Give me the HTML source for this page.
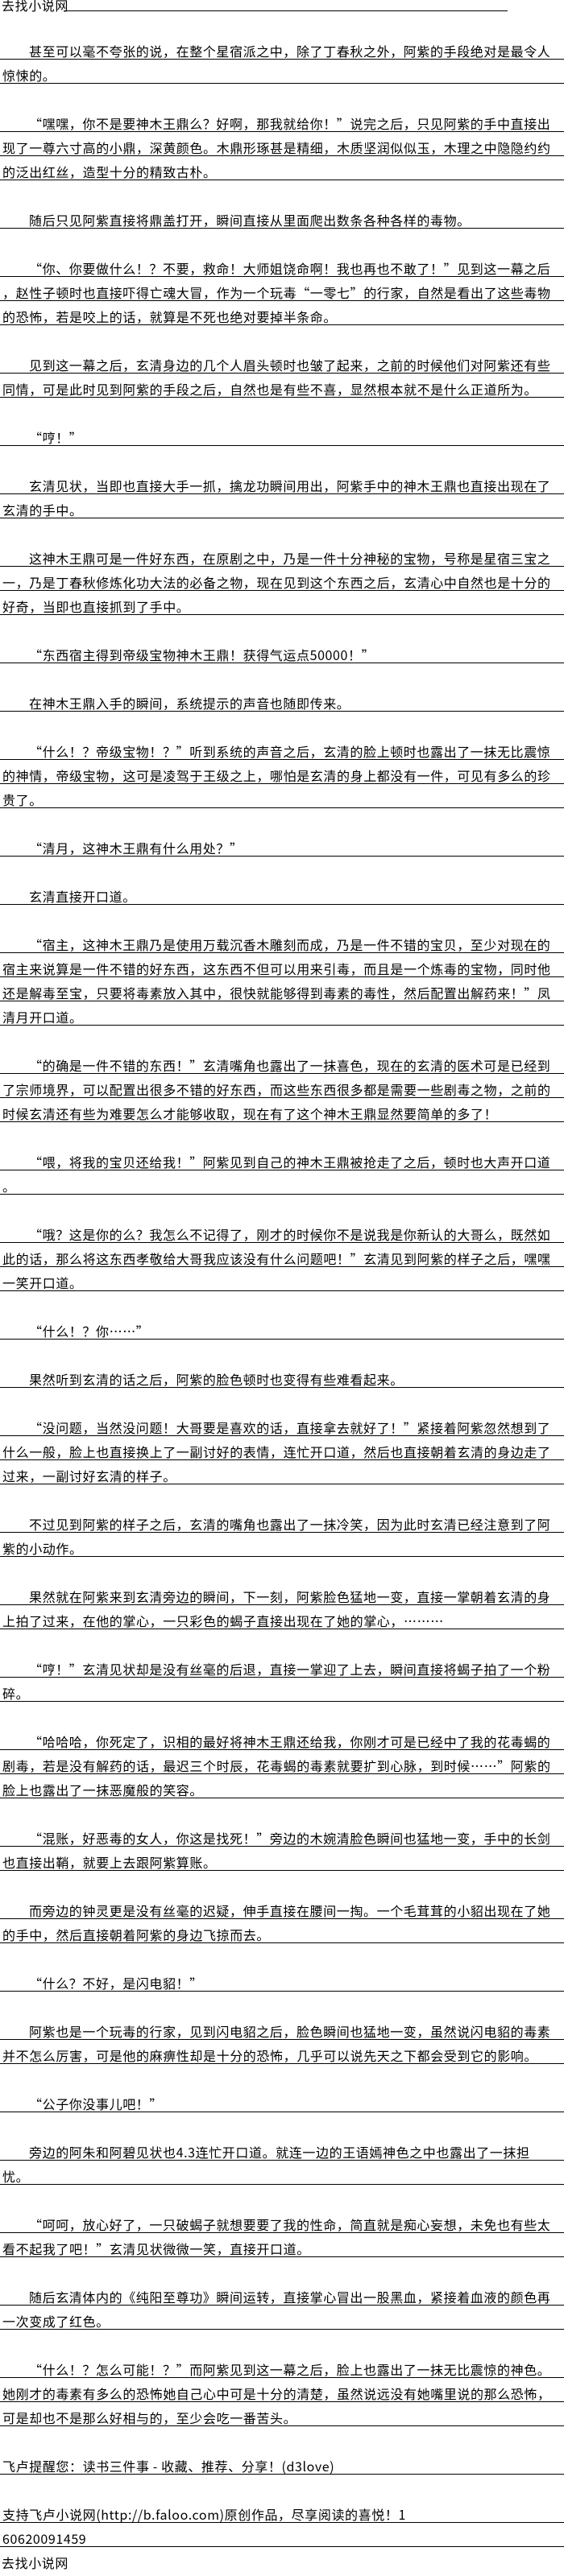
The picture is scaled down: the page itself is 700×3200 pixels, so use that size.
<!DOCTYPE html>
<html><head><meta charset="utf-8">
<style>
html,body{margin:0;padding:0;background:#fff;}
body{width:700px;height:3200px;overflow:hidden;position:relative;font-family:"WenQuanYi Zen Hei","Noto Sans CJK SC",sans-serif;font-size:16px;letter-spacing:0.6px;color:#000;}
.hd{position:relative;height:14px;}
.hd span{position:absolute;left:2px;top:-3px;line-height:18px;}
.hd i{position:absolute;left:79px;width:551px;top:13px;height:1px;background:#000;}
.b{height:30px;}
.l{height:30px;box-sizing:border-box;border-bottom:1px solid #000;padding-top:10px;line-height:19px;white-space:nowrap;padding-left:3px;overflow:hidden;}
.i{padding-left:36px;}
.n{height:30px;box-sizing:border-box;padding-top:10px;line-height:19px;white-space:nowrap;padding-left:2px;}
</style></head><body>
<div class="hd"><span>去找小说网</span><i></i></div>
<div class="b"></div>
<div class="l i">甚至可以毫不夸张的说，在整个星宿派之中，除了丁春秋之外，阿紫的手段绝对是最令人</div>
<div class="l">惊悚的。</div>
<div class="b"></div>
<div class="l i">“嘿嘿，你不是要神木王鼎么？好啊，那我就给你！”说完之后，只见阿紫的手中直接出</div>
<div class="l">现了一尊六寸高的小鼎，深黄颜色。木鼎形琢甚是精细，木质坚润似似玉，木理之中隐隐约约</div>
<div class="l">的泛出红丝，造型十分的精致古朴。</div>
<div class="b"></div>
<div class="l i">随后只见阿紫直接将鼎盖打开，瞬间直接从里面爬出数条各种各样的毒物。</div>
<div class="b"></div>
<div class="l i">“你、你要做什么！？不要，救命！大师姐饶命啊！我也再也不敢了！”见到这一幕之后</div>
<div class="l">，赵性子顿时也直接吓得亡魂大冒，作为一个玩毒“一零七”的行家，自然是看出了这些毒物</div>
<div class="l">的恐怖，若是咬上的话，就算是不死也绝对要掉半条命。</div>
<div class="b"></div>
<div class="l i">见到这一幕之后，玄清身边的几个人眉头顿时也皱了起来，之前的时候他们对阿紫还有些</div>
<div class="l">同情，可是此时见到阿紫的手段之后，自然也是有些不喜，显然根本就不是什么正道所为。</div>
<div class="b"></div>
<div class="l i">“哼！”</div>
<div class="b"></div>
<div class="l i">玄清见状，当即也直接大手一抓，擒龙功瞬间用出，阿紫手中的神木王鼎也直接出现在了</div>
<div class="l">玄清的手中。</div>
<div class="b"></div>
<div class="l i">这神木王鼎可是一件好东西，在原剧之中，乃是一件十分神秘的宝物，号称是星宿三宝之</div>
<div class="l">一，乃是丁春秋修炼化功大法的必备之物，现在见到这个东西之后，玄清心中自然也是十分的</div>
<div class="l">好奇，当即也直接抓到了手中。</div>
<div class="b"></div>
<div class="l i">“东西宿主得到帝级宝物神木王鼎！获得气运点50000！”</div>
<div class="b"></div>
<div class="l i">在神木王鼎入手的瞬间，系统提示的声音也随即传来。</div>
<div class="b"></div>
<div class="l i">“什么！？帝级宝物！？”听到系统的声音之后，玄清的脸上顿时也露出了一抹无比震惊</div>
<div class="l">的神情，帝级宝物，这可是凌驾于王级之上，哪怕是玄清的身上都没有一件，可见有多么的珍</div>
<div class="l">贵了。</div>
<div class="b"></div>
<div class="l i">“清月，这神木王鼎有什么用处？”</div>
<div class="b"></div>
<div class="l i">玄清直接开口道。</div>
<div class="b"></div>
<div class="l i">“宿主，这神木王鼎乃是使用万载沉香木雕刻而成，乃是一件不错的宝贝，至少对现在的</div>
<div class="l">宿主来说算是一件不错的好东西，这东西不但可以用来引毒，而且是一个炼毒的宝物，同时他</div>
<div class="l">还是解毒至宝，只要将毒素放入其中，很快就能够得到毒素的毒性，然后配置出解药来！”凤</div>
<div class="l">清月开口道。</div>
<div class="b"></div>
<div class="l i">“的确是一件不错的东西！”玄清嘴角也露出了一抹喜色，现在的玄清的医术可是已经到</div>
<div class="l">了宗师境界，可以配置出很多不错的好东西，而这些东西很多都是需要一些剧毒之物，之前的</div>
<div class="l">时候玄清还有些为难要怎么才能够收取，现在有了这个神木王鼎显然要简单的多了！</div>
<div class="b"></div>
<div class="l i">“喂，将我的宝贝还给我！”阿紫见到自己的神木王鼎被抢走了之后，顿时也大声开口道</div>
<div class="l">。</div>
<div class="b"></div>
<div class="l i">“哦？这是你的么？我怎么不记得了，刚才的时候你不是说我是你新认的大哥么，既然如</div>
<div class="l">此的话，那么将这东西孝敬给大哥我应该没有什么问题吧！”玄清见到阿紫的样子之后，嘿嘿</div>
<div class="l">一笑开口道。</div>
<div class="b"></div>
<div class="l i">“什么！？你……”</div>
<div class="b"></div>
<div class="l i">果然听到玄清的话之后，阿紫的脸色顿时也变得有些难看起来。</div>
<div class="b"></div>
<div class="l i">“没问题，当然没问题！大哥要是喜欢的话，直接拿去就好了！”紧接着阿紫忽然想到了</div>
<div class="l">什么一般，脸上也直接换上了一副讨好的表情，连忙开口道，然后也直接朝着玄清的身边走了</div>
<div class="l">过来，一副讨好玄清的样子。</div>
<div class="b"></div>
<div class="l i">不过见到阿紫的样子之后，玄清的嘴角也露出了一抹冷笑，因为此时玄清已经注意到了阿</div>
<div class="l">紫的小动作。</div>
<div class="b"></div>
<div class="l i">果然就在阿紫来到玄清旁边的瞬间，下一刻，阿紫脸色猛地一变，直接一掌朝着玄清的身</div>
<div class="l">上拍了过来，在他的掌心，一只彩色的蝎子直接出现在了她的掌心，………</div>
<div class="b"></div>
<div class="l i">“哼！”玄清见状却是没有丝毫的后退，直接一掌迎了上去，瞬间直接将蝎子拍了一个粉</div>
<div class="l">碎。</div>
<div class="b"></div>
<div class="l i">“哈哈哈，你死定了，识相的最好将神木王鼎还给我，你刚才可是已经中了我的花毒蝎的</div>
<div class="l">剧毒，若是没有解药的话，最迟三个时辰，花毒蝎的毒素就要扩到心脉，到时候……”阿紫的</div>
<div class="l">脸上也露出了一抹恶魔般的笑容。</div>
<div class="b"></div>
<div class="l i">“混账，好恶毒的女人，你这是找死！”旁边的木婉清脸色瞬间也猛地一变，手中的长剑</div>
<div class="l">也直接出鞘，就要上去跟阿紫算账。</div>
<div class="b"></div>
<div class="l i">而旁边的钟灵更是没有丝毫的迟疑，伸手直接在腰间一掏。一个毛茸茸的小貂出现在了她</div>
<div class="l">的手中，然后直接朝着阿紫的身边飞掠而去。</div>
<div class="b"></div>
<div class="l i">“什么？不好，是闪电貂！”</div>
<div class="b"></div>
<div class="l i">阿紫也是一个玩毒的行家，见到闪电貂之后，脸色瞬间也猛地一变，虽然说闪电貂的毒素</div>
<div class="l">并不怎么厉害，可是他的麻痹性却是十分的恐怖，几乎可以说先天之下都会受到它的影响。</div>
<div class="b"></div>
<div class="l i">“公子你没事儿吧！”</div>
<div class="b"></div>
<div class="l i">旁边的阿朱和阿碧见状也4.3连忙开口道。就连一边的王语嫣神色之中也露出了一抹担</div>
<div class="l">忧。</div>
<div class="b"></div>
<div class="l i">“呵呵，放心好了，一只破蝎子就想要要了我的性命，简直就是痴心妄想，未免也有些太</div>
<div class="l">看不起我了吧！”玄清见状微微一笑，直接开口道。</div>
<div class="b"></div>
<div class="l i">随后玄清体内的《纯阳至尊功》瞬间运转，直接掌心冒出一股黑血，紧接着血液的颜色再</div>
<div class="l">一次变成了红色。</div>
<div class="b"></div>
<div class="l i">“什么！？怎么可能！？”而阿紫见到这一幕之后，脸上也露出了一抹无比震惊的神色。</div>
<div class="l">她刚才的毒素有多么的恐怖她自己心中可是十分的清楚，虽然说远没有她嘴里说的那么恐怖，</div>
<div class="l">可是却也不是那么好相与的，至少会吃一番苦头。</div>
<div class="b"></div>
<div class="l">飞卢提醒您：读书三件事 - 收藏、推荐、分享！(d3love)</div>
<div class="b"></div>
<div class="l">支持飞卢小说网(http://b.faloo.com)原创作品，尽享阅读的喜悦！1</div>
<div class="l">60620091459</div>
<div class="n">去找小说网</div>
</body></html>
